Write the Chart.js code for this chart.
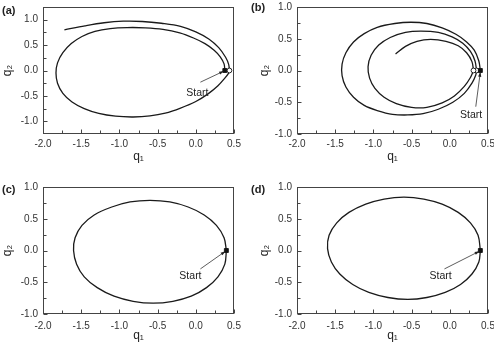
<!DOCTYPE html>
<html>
<head>
<meta charset="utf-8">
<script src="https://cdn.jsdelivr.net/npm/chart.js@4"></script>
<style>
body { margin: 0; background: #fff; }
#wrap { position: relative; width: 494px; height: 345px; overflow: hidden; }
canvas { position: absolute; }
.tag { position: absolute; font: bold 11px "Liberation Sans", Arial, sans-serif; color: #222; line-height: 12px; }
</style>
</head>
<body>
<div id="wrap">
  <canvas id="ca" width="247" height="172" style="left:0;top:0"></canvas>
  <canvas id="cb" width="247" height="172" style="left:247px;top:0"></canvas>
  <canvas id="cc" width="247" height="173" style="left:0;top:172px"></canvas>
  <canvas id="cd" width="247" height="173" style="left:247px;top:172px"></canvas>
  <div class="tag" style="left:2px;top:4px">(a)</div>
  <div class="tag" style="left:251px;top:1px">(b)</div>
  <div class="tag" style="left:2px;top:183px">(c)</div>
  <div class="tag" style="left:251px;top:183px">(d)</div>
</div>
<script>
// Axis ticks shared by the panels
const q1Ticks = [-2.0, -1.5, -1.0, -0.5, 0.0, 0.5];
const q2Ticks = [-1.0, -0.5, 0.0, 0.5, 1.0];

// (a) first loop and the outer arc that follows it
const aLoopQ1 = [0.38, 0.37, 0.32, 0.24, 0.12, -0.03, -0.21, -0.43, -0.66, -0.90, -1.12, -1.32, -1.49, -1.63, -1.74, -1.81, -1.83,
                 -1.81, -1.74, -1.62, -1.46, -1.27, -1.05, -0.82, -0.60, -0.40, -0.20, 0.00, 0.16, 0.29, 0.38, 0.43, 0.44];
const aLoopQ2 = [0.00, 0.13, 0.27, 0.40, 0.53, 0.64, 0.74, 0.81, 0.84, 0.845, 0.825, 0.77, 0.67, 0.53, 0.35, 0.15, -0.05,
                 -0.25, -0.45, -0.62, -0.75, -0.845, -0.90, -0.915, -0.895, -0.84, -0.74, -0.61, -0.46, -0.30, -0.15, -0.05, 0.00];
const aArcQ1 = [0.44, 0.43, 0.39, 0.30, 0.17, 0.00, -0.20, -0.45, -0.70, -0.95, -1.20, -1.45, -1.72];
const aArcQ2 = [0.00, 0.12, 0.26, 0.45, 0.62, 0.76, 0.87, 0.93, 0.965, 0.97, 0.94, 0.88, 0.80];

// (b) inward spiral: outer loop, middle loop, inner arc
const bOuterQ1 = [0.40, 0.38, 0.32, 0.22, 0.08, -0.10, -0.30, -0.51, -0.72, -0.95, -1.12, -1.26, -1.36, -1.41, -1.41, -1.36, -1.26, -1.12, -0.95, -0.75, -0.55, -0.35, -0.15, 0.04, 0.19, 0.29, 0.34, 0.35];
const bOuterQ2 = [0.00, 0.15, 0.32, 0.45, 0.57, 0.67, 0.74, 0.76, 0.74, 0.68, 0.58, 0.45, 0.28, 0.10, -0.08, -0.26, -0.42, -0.55, -0.63, -0.69, -0.70, -0.68, -0.61, -0.50, -0.36, -0.20, -0.07, 0.00];
const bMiddleQ1 = [0.35, 0.33, 0.27, 0.17, 0.03, -0.15, -0.38, -0.58, -0.78, -0.93, -1.03, -1.07, -1.05, -0.98, -0.86, -0.70, -0.50, -0.30, -0.10, 0.06, 0.19, 0.27, 0.31];
const bMiddleQ2 = [0.00, 0.15, 0.30, 0.43, 0.53, 0.60, 0.62, 0.60, 0.52, 0.40, 0.24, 0.06, -0.12, -0.28, -0.42, -0.52, -0.58, -0.58, -0.51, -0.40, -0.25, -0.11, 0.00];
const bInnerQ1 = [0.31, 0.29, 0.22, 0.11, -0.05, -0.25, -0.43, -0.58, -0.71];
const bInnerQ2 = [0.00, 0.14, 0.28, 0.39, 0.46, 0.49, 0.46, 0.38, 0.26];

// (c) and (d) closed orbits
const cLoopQ1 = [0.40, 0.37, 0.27, 0.11, -0.10, -0.34, -0.60, -0.86, -1.10, -1.33, -1.49, -1.58, -1.60,
                 -1.56, -1.46, -1.29, -1.07, -0.82, -0.56, -0.30, -0.06, 0.14, 0.29, 0.38, 0.40];
const cLoopQ2 = [0.00, 0.20, 0.395, 0.56, 0.685, 0.765, 0.79, 0.765, 0.685, 0.56, 0.395, 0.20, 0.00,
                 -0.215, -0.415, -0.585, -0.72, -0.80, -0.83, -0.80, -0.72, -0.585, -0.415, -0.215, 0.00];
const dLoopQ1 = [0.40, 0.37, 0.27, 0.11, -0.10, -0.34, -0.60, -0.86, -1.10, -1.32, -1.48, -1.58, -1.60,
                 -1.55, -1.44, -1.27, -1.06, -0.81, -0.55, -0.30, -0.06, 0.14, 0.29, 0.38, 0.40];
const dLoopQ2 = [0.00, 0.24, 0.435, 0.60, 0.73, 0.81, 0.84, 0.81, 0.73, 0.60, 0.435, 0.24, 0.03,
                 -0.18, -0.37, -0.535, -0.66, -0.74, -0.77, -0.74, -0.66, -0.535, -0.37, -0.18, 0.00];

// start points (filled) and return points (open)
const aStartQ1 = [0.38], aStartQ2 = [0.00];
const aOpenQ1 = [0.44], aOpenQ2 = [0.00];
const bStartQ1 = [0.40], bStartQ2 = [0.00];
const bOpenQ1 = [0.35, 0.31], bOpenQ2 = [0.00, 0.00];
const cStartQ1 = [0.40], cStartQ2 = [0.00];
const dStartQ1 = [0.40], dStartQ2 = [0.00];

// "Start" label positions and pointer lines (data units)
const aLabel = [0.02, -0.44], aPointerQ1 = [0.06, 0.37], aPointerQ2 = [-0.23, -0.01];
const bLabel = [0.28, -0.70], bPointerQ1 = [0.34, 0.40], bPointerQ2 = [-0.57, -0.02];
const cLabel = [-0.07, -0.40], cPointerQ1 = [0.06, 0.39], cPointerQ2 = [-0.29, -0.01];
const dLabel = [-0.12, -0.41], dPointerQ1 = [-0.07, 0.39], dPointerQ2 = [-0.29, -0.01];

const fontFamily = '"Liberation Sans", Arial, sans-serif';

function toPoints(xs, ys) {
    return xs.map((x, i) => ({ x: x, y: ys[i] }));
}

function curve(xs, ys) {
    return { data: toPoints(xs, ys), showLine: true, borderColor: '#1a1a1a', borderWidth: 1.3,
             pointRadius: 0, tension: 0.35, fill: false, order: 2 };
}

function pointer(xs, ys) {
    return { data: toPoints(xs, ys), showLine: true, borderColor: '#333', borderWidth: 0.8,
             pointRadius: 0, tension: 0, order: 1 };
}

function markers(xs, ys, filled) {
    return { data: toPoints(xs, ys), showLine: false,
             pointStyle: filled ? 'rect' : 'circle', pointRadius: filled ? 2.8 : 2.4,
             backgroundColor: filled ? '#111' : '#fff', borderColor: '#111', borderWidth: 0.9,
             order: filled ? 0 : 0.5 };
}

// box, inward ticks, "Start" label and arrow head
const framePlugin = {
    id: 'frame',
    afterDatasetsDraw(chart, args, o) {
        const { ctx, chartArea: a, scales: { x, y } } = chart;
        ctx.save();
        ctx.strokeStyle = '#444';
        ctx.lineWidth = 1;
        ctx.strokeRect(Math.round(a.left) + 0.5, Math.round(a.top) + 0.5,
                       Math.round(a.right - a.left) - 1, Math.round(a.bottom - a.top) - 1);
        ctx.beginPath();
        const xs = x.ticks.map(t => t.value);
        const ys = y.ticks.map(t => t.value);
        const bottom = Math.round(a.bottom) - 0.5;
        const left = Math.round(a.left) + 0.5;
        xs.forEach((v, i) => {
            const px = Math.round(x.getPixelForValue(v)) + 0.5;
            ctx.moveTo(px, bottom); ctx.lineTo(px, bottom - 4);
            if (i < xs.length - 1) {
                const m = Math.round(x.getPixelForValue((v + xs[i + 1]) / 2)) + 0.5;
                ctx.moveTo(m, bottom); ctx.lineTo(m, bottom - 3);
            }
        });
        ys.forEach((v, i) => {
            const py = Math.round(y.getPixelForValue(v)) + 0.5;
            ctx.moveTo(left, py); ctx.lineTo(left + 4, py);
            if (i < ys.length - 1) {
                const m = Math.round(y.getPixelForValue((v + ys[i + 1]) / 2)) + 0.5;
                ctx.moveTo(left, m); ctx.lineTo(left + 3, m);
            }
        });
        ctx.stroke();

        // arrow head at the end of the pointer line
        const x0 = x.getPixelForValue(o.pq1[0]), y0 = y.getPixelForValue(o.pq2[0]);
        const x1 = x.getPixelForValue(o.pq1[1]), y1 = y.getPixelForValue(o.pq2[1]);
        const ang = Math.atan2(y1 - y0, x1 - x0);
        ctx.fillStyle = '#222';
        ctx.beginPath();
        ctx.moveTo(x1, y1);
        ctx.lineTo(x1 - 5 * Math.cos(ang) + 1.6 * Math.sin(ang), y1 - 5 * Math.sin(ang) - 1.6 * Math.cos(ang));
        ctx.lineTo(x1 - 5 * Math.cos(ang) - 1.6 * Math.sin(ang), y1 - 5 * Math.sin(ang) + 1.6 * Math.cos(ang));
        ctx.closePath();
        ctx.fill();

        ctx.font = '10.5px ' + fontFamily;
        ctx.textAlign = 'center';
        ctx.textBaseline = 'middle';
        ctx.fillText('Start', x.getPixelForValue(o.label[0]), y.getPixelForValue(o.label[1]));
        ctx.restore();
    }
};

function makeChart(id, sets, opt) {
    return new Chart(document.getElementById(id), {
        type: 'scatter',
        data: { datasets: sets },
        options: {
            responsive: false,
            animation: false,
            devicePixelRatio: 1,
            layout: { padding: { left: 0, top: opt.top, right: opt.right, bottom: 0 } },
            plugins: {
                legend: { display: false },
                tooltip: { enabled: false },
                frame: { label: opt.label, pq1: opt.pq1, pq2: opt.pq2 }
            },
            scales: {
                x: {
                    type: 'linear', min: -2, max: 0.5,
                    grid: { display: false, drawTicks: false },
                    border: { display: false },
                    afterBuildTicks: s => { s.ticks = q1Ticks.map(v => ({ value: v })); },
                    afterFit: s => { s.height = opt.xh; s.paddingLeft = 0; s.paddingRight = 0; },
                    ticks: { padding: opt.xpad, color: '#333', maxRotation: 0, autoSkip: false,
                             font: { family: fontFamily, size: 10 },
                             callback: v => v.toFixed(1) },
                    title: { display: true, text: 'q₁', color: '#222',
                             font: { family: fontFamily, size: 12, lineHeight: 1.2 },
                             padding: { top: 0, bottom: opt.xtp } }
                },
                y: {
                    type: 'linear', min: opt.ymin, max: opt.ymax,
                    grid: { display: false, drawTicks: false },
                    border: { display: false },
                    afterBuildTicks: s => { s.ticks = q2Ticks.map(v => ({ value: v })); },
                    afterFit: s => { s.width = opt.yw; s.paddingTop = 0; s.paddingBottom = 0; },
                    ticks: { padding: 5, color: '#333', autoSkip: false,
                             font: { family: fontFamily, size: 10 },
                             callback: v => v.toFixed(1) },
                    title: { display: true, text: 'q₂', color: '#222',
                             font: { family: fontFamily, size: 12, lineHeight: 1.2 },
                             padding: { top: opt.ytp, bottom: 0 } }
                }
            }
        },
        plugins: [framePlugin]
    });
}

makeChart('ca', [
    markers(aStartQ1, aStartQ2, true),
    markers(aOpenQ1, aOpenQ2, false),
    pointer(aPointerQ1, aPointerQ2),
    curve(aLoopQ1, aLoopQ2),
    curve(aArcQ1, aArcQ2)
], { top: 7, right: 13, yw: 43, xh: 38, ymin: -1.25, ymax: 1.25, xpad: 4, xtp: 8, ytp: 0,
     label: aLabel, pq1: aPointerQ1, pq2: aPointerQ2 });

makeChart('cb', [
    markers(bStartQ1, bStartQ2, true),
    markers(bOpenQ1, bOpenQ2, false),
    pointer(bPointerQ1, bPointerQ2),
    curve(bOuterQ1, bOuterQ2),
    curve(bMiddleQ1, bMiddleQ2),
    curve(bInnerQ1, bInnerQ2)
], { top: 7, right: 6, yw: 50, xh: 38, ymin: -1, ymax: 1, xpad: 4, xtp: 8, ytp: 10,
     label: bLabel, pq1: bPointerQ1, pq2: bPointerQ2 });

makeChart('cc', [
    markers(cStartQ1, cStartQ2, true),
    pointer(cPointerQ1, cPointerQ2),
    curve(cLoopQ1, cLoopQ2)
], { top: 15, right: 13, yw: 43, xh: 31, ymin: -1, ymax: 1, xpad: 6, xtp: 2, ytp: 0,
     label: cLabel, pq1: cPointerQ1, pq2: cPointerQ2 });

makeChart('cd', [
    markers(dStartQ1, dStartQ2, true),
    pointer(dPointerQ1, dPointerQ2),
    curve(dLoopQ1, dLoopQ2)
], { top: 15, right: 6, yw: 50, xh: 31, ymin: -1, ymax: 1, xpad: 6, xtp: 2, ytp: 10,
     label: dLabel, pq1: dPointerQ1, pq2: dPointerQ2 });
</script>
</body>
</html>
